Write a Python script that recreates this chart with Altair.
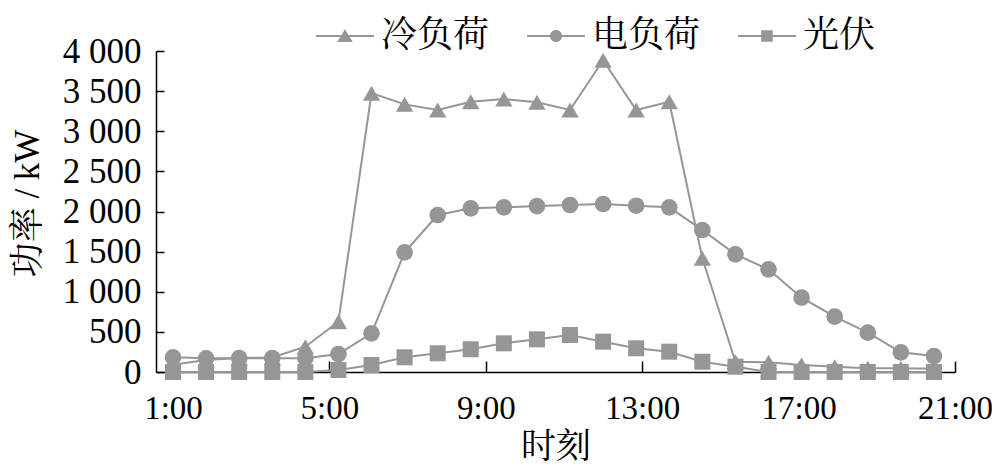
import altair as alt
import pandas as pd

# ---------------- data ----------------
SERIES = ["冷负荷", "电负荷", "光伏"]
SAMPLE_IDX = list(range(24))  # 24 samples along the time axis

COLD = [90, 150, 175, 180, 315, 627, 3475, 3335, 3265, 3368, 3401, 3360,
        3265, 3885, 3265, 3368, 1417, 128, 122, 87, 66, 46, 46, 40]
ELEC = [183, 170, 172, 172, 172, 224, 482, 1491, 1956, 2039, 2052, 2068,
        2081, 2093, 2072, 2052, 1769, 1466, 1279, 926, 689, 490, 245, 199]
PV = [0, 0, 0, 0, 0, 25, 87, 183, 233, 283, 357, 407,
      461, 378, 295, 253, 128, 66, 0, 0, 0, 0, 0, 0]

X_TICK_POS = [0, 4.7273, 9.4545, 14.1818, 18.9091, 23.6364]
X_TICK_LABELS = ["1:00", "5:00", "9:00", "13:00", "17:00", "21:00"]
X_DOMAIN = [-0.514, 23.6364]
Y_TICKS = [0, 500, 1000, 1500, 2000, 2500, 3000, 3500, 4000]
Y_DOMAIN = [0, 4000]

GREY = "#969696"
FONT = "Liberation Serif, Noto Serif CJK SC, Noto Sans CJK SC"

rows = []
for s, vals in zip(SERIES, [COLD, ELEC, PV]):
    for i, v in zip(SAMPLE_IDX, vals):
        rows.append({"series": s, "idx": i, "value": v})
df = pd.DataFrame(rows)

W, H = 799, 321

x_scale = alt.Scale(domain=X_DOMAIN, nice=False, zero=False)
y_scale = alt.Scale(domain=Y_DOMAIN, nice=False)

labels_js = "[" + ",".join("'%s'" % t for t in X_TICK_LABELS) + "]"
step = X_TICK_POS[1]

# ---- lines + main (labelled) axes ----
lines = alt.Chart(df).mark_line(color=GREY, strokeWidth=2).encode(
    x=alt.X("idx:Q", scale=x_scale, axis=alt.Axis(
        orient="bottom", values=X_TICK_POS,
        labelExpr="%s[round(datum.value / %f)]" % (labels_js, step),
        ticks=False, tickSize=0, grid=False, domain=True, domainColor="black",
        domainWidth=1.5, labelFontSize=33, labelPadding=20, labelColor="black",
        labelFlush=False, labelOverlap=False,
        title="时刻", titleFontSize=35, titleBaseline="middle", titleY=74,
        titleFontWeight="normal", titleColor="black")),
    y=alt.Y("value:Q", scale=y_scale, axis=alt.Axis(
        orient="left", values=Y_TICKS,
        labelExpr="replace(format(datum.value, ','), ',', ' ')",
        ticks=False, tickSize=0, grid=False, domain=True, domainColor="black",
        domainWidth=1.5, labelFontSize=35, labelPadding=15, labelColor="black",
        labelBaseline="middle", labelFlush=False, labelOverlap=False,
        title="功率 / kW", titleFontSize=35, titleAngle=-90, titleX=-129,
        titleY=152, titleAlign="center", titleBaseline="middle",
        titleFontWeight="normal", titleColor="black")),
    detail="series:N",
)

# ---- markers + inward tick axes ----
points = alt.Chart(df).mark_point(filled=True, opacity=1, color=GREY).encode(
    x=alt.X("idx:Q", scale=x_scale, axis=alt.Axis(
        orient="top", offset=-H, values=X_TICK_POS, labels=False,
        domain=False, ticks=True, tickSize=11, tickWidth=1.5,
        tickColor="black", grid=False, title=None)),
    y=alt.Y("value:Q", scale=y_scale, axis=alt.Axis(
        orient="right", offset=-W, values=Y_TICKS, labels=False,
        domain=False, ticks=True, tickSize=8, tickWidth=1.5,
        tickColor="black", grid=False, title=None)),
    shape=alt.Shape("series:N", scale=alt.Scale(
        domain=SERIES, range=["triangle-up", "circle", "square"]), legend=None),
    size=alt.Size("series:N", scale=alt.Scale(
        domain=SERIES, range=[300, 256, 196]), legend=None),
)

# ---- legend (line + marker glyphs, filled paths) ----
BAR = "M-1,-0.035H1V0.035H-1Z"
LEGEND_PATHS = [
    BAR + "M0,-0.23L0.27,0.21L-0.27,0.21Z",
    BAR + "M0.21,0A0.21,0.21,0,1,1,-0.21,0A0.21,0.21,0,1,1,0.21,0Z",
    BAR + "M-0.2,-0.2H0.2V0.2H-0.2Z",
]
legend_layer = alt.Chart(df).transform_filter("false").mark_point(
    filled=True, color=GREY).encode(
    shape=alt.Shape("series:N", scale=alt.Scale(domain=SERIES, range=LEGEND_PATHS),
                    legend=alt.Legend(
                        title=None, orient="none", direction="horizontal",
                        legendX=160, legendY=-44,
                        symbolSize=3364, symbolStrokeWidth=0,
                        symbolFillColor=GREY,
                        symbolOpacity=1,
                        labelFont=FONT, labelFontSize=36, labelColor="black",
                        labelOffset=7, labelLimit=0, columnPadding=37)),
)

chart = alt.layer(lines, points, legend_layer).resolve_scale(
    x="independent", y="independent", shape="independent", size="independent"
).resolve_axis(x="independent", y="independent").properties(
    width=W, height=H,
    autosize=alt.AutoSizeParams(type="none"),
    padding={"left": 148, "top": 43, "right": 37, "bottom": 94},
).configure_view(stroke=None).configure_axis(
    labelFont=FONT, titleFont=FONT
).configure_legend(labelFont=FONT)

chart.save("out.html", embed_options={"renderer": "svg", "actions": False})
